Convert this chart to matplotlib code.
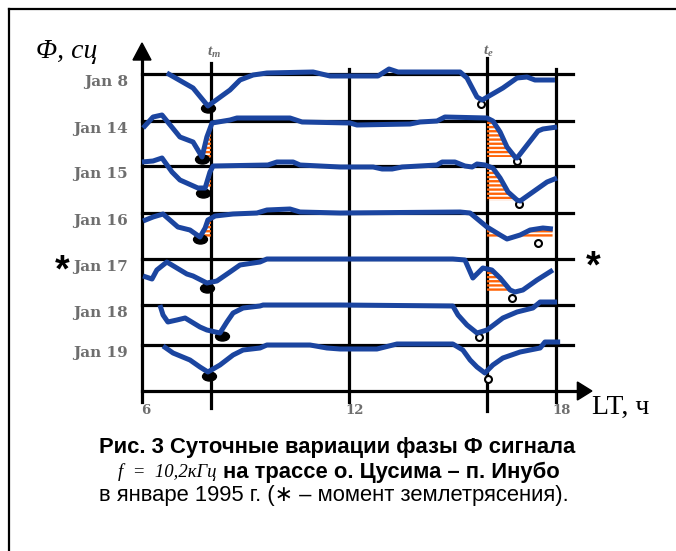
import numpy as np
import matplotlib.pyplot as plt
from matplotlib.lines import Line2D
from matplotlib.path import Path

plt.rcParams['mathtext.fontset'] = 'custom'
plt.rcParams['mathtext.it'] = 'Liberation Serif:italic:bold'
plt.rcParams['hatch.linewidth'] = 1.7

# days and the level of each day's zero line
days = ['Jan 8', 'Jan 14', 'Jan 15', 'Jan 16', 'Jan 17', 'Jan 18', 'Jan 19']
levels = [317, 270, 225, 178, 132, 86, 46]
quake_day = 'Jan 17'

# phase deviation from the zero line vs local time, hours
jan8_h = [6.72, 7.48, 7.91, 8.55, 8.84, 9.22, 9.62, 10.96, 11.45, 12.84, 13.16,
          13.42, 15.22, 15.42, 15.71, 15.86, 16.46, 16.87, 17.16, 17.39, 17.97]
jan8_phi = [1, -14, -32, -16, -6, -1, 1, 2, -2, -2, 5,
            2, 2, -4, -23, -26, -14, -4, -3, -6, -6]

jan14_h = [6.03, 6.32, 6.58, 7.10, 7.48, 7.62, 7.74, 7.88, 8.03, 8.55, 8.75,
           10.29, 10.64, 12.03, 12.23, 13.77, 14.06, 14.55, 14.78, 16.0, 16.17,
           16.38, 16.58, 16.81, 16.87, 17.48, 17.62, 18.03]
jan14_phi = [-7, 4, 6, -16, -21, -29, -36, -16, -2, 1, 3,
             3, -1, -2, -4, -3, -1, 0, 4, 3, 0,
             -11, -26, -36, -37, -10, -8, -6]

jan15_h = [6.0, 6.32, 6.58, 6.87, 7.10, 7.62, 7.83, 7.97, 8.06, 9.65, 9.91,
           10.38, 10.58, 11.74, 12.70, 12.96, 13.25, 13.54, 14.55, 14.70, 15.07,
           15.36, 15.57, 15.71, 15.94, 16.17, 16.38, 16.61, 16.87, 16.96, 17.33,
           17.74, 18.03]
jan15_phi = [4, 5, 8, -6, -14, -22, -22, -6, 0, 1, 4,
             4, 1, -1, -1, -3, -3, -1, 1, 4, 4,
             0, -1, 2, 1, -2, -12, -26, -34, -35, -26,
             -16, -12]

jan16_h = [6.03, 6.32, 6.61, 7.04, 7.39, 7.68, 7.83, 7.91, 8.12, 8.64, 9.33,
           9.62, 10.29, 10.58, 11.74, 15.22, 15.51, 16.0, 16.38, 16.58, 16.96,
           17.25, 17.62, 17.91]
jan16_phi = [-8, -4, -1, -14, -17, -24, -15, -7, -3, -1, 0,
             3, 4, 1, 0, 1, 0, -14, -22, -26, -22,
             -17, -15, -16]

jan17_h = [6.03, 6.29, 6.43, 6.72, 7.30, 7.48, 7.88, 8.17, 8.55, 8.84, 9.42,
           9.62, 11.74, 15.01, 15.36, 15.59, 15.88, 16.14, 16.38, 16.67, 16.81,
           17.04, 17.45, 17.91]
jan17_phi = [-17, -20, -11, -3, -15, -17, -24, -22, -13, -6, -3,
             0, 0, 0, -1, -19, -9, -11, -19, -31, -33,
             -31, -21, -11]

jan18_h = [6.52, 6.61, 6.75, 7.01, 7.25, 7.68, 7.88, 8.26, 8.46, 8.64, 8.93,
           9.42, 9.51, 11.74, 15.01, 15.16, 15.42, 15.71, 16.0, 16.46, 16.87,
           17.33, 17.54, 18.03]
jan18_phi = [0, -10, -17, -15, -13, -22, -25, -28, -17, -8, -3,
             -1, 0, 0, -1, -10, -20, -28, -25, -13, -7,
             -3, 3, 3]

jan19_h = [6.61, 6.90, 7.39, 7.68, 7.91, 8.26, 8.64, 8.93, 9.42, 9.62, 10.87,
           11.36, 11.74, 12.81, 13.39, 15.01, 15.30, 15.51, 15.71, 15.94, 16.17,
           16.46, 16.96, 17.54, 17.68, 18.12]
jan19_phi = [-1, -8, -15, -22, -27, -20, -10, -5, -3, 0, 0,
             -3, -4, -4, 1, 1, -5, -15, -22, -28, -20,
             -13, -7, -3, 3, 3]

curves_h = [jan8_h, jan14_h, jan15_h, jan16_h, jan17_h, jan18_h, jan19_h]
curves_phi = [jan8_phi, jan14_phi, jan15_phi, jan16_phi, jan17_phi, jan18_phi, jan19_phi]

# morning (tm) and evening (te) minima
t_m, t_e = 8.0, 16.0
tm_h = [7.91, 7.74, 7.77, 7.68, 7.88, 8.32, 7.94]
tm_phi = [-34, -38, -27, -26, -29, -31, -31]
te_h = [15.83, 16.87, 16.93, 17.48, 16.72, 15.77, 16.03]
te_phi = [-30, -40, -38, -30, -39, -32, -34]

# shaded parts: day, from hour, to hour, lower level
shade_day = ['Jan 14', 'Jan 14', 'Jan 15', 'Jan 15', 'Jan 16', 'Jan 16', 'Jan 17']
shade_from = [7.74, 16.0, 7.77, 16.0, 7.68, 16.0, 16.0]
shade_to = [8.0, 16.87, 8.0, 16.93, 8.0, 17.9, 16.8]
shade_level = [-37, -36, -22, -35, -24, -25, -32]

hour_ticks = [6, 12, 18]

BLUE = '#1b45a0'
ORANGE = '#ff6408'
GREY = '#6e6e6e'
PX_H = 34.5  # pixels per hour

fig = plt.figure(figsize=(6.76, 5.51), dpi=100)
ax = fig.add_axes([0, 0, 1, 1])
ax.set_xlim(6 - 142 / PX_H, 6 + 534 / PX_H)
ax.set_ylim(-160, 391)
ax.axis('off')

# outer frame
fig.add_artist(Line2D([9 / 676, 1], [1 - 9 / 551] * 2, color='black', lw=1.6,
                      transform=fig.transFigure))
fig.add_artist(Line2D([9 / 676] * 2, [0, 1 - 9 / 551], color='black', lw=1.6,
                      transform=fig.transFigure))

# axes with arrows
lw_grid = 2.3
x_end = 6 + 431 / PX_H
ax.plot([6, 6], [-11, 332], color='black', lw=lw_grid, zorder=1)
ax.fill([6 - 9 / PX_H, 6 + 9 / PX_H, 6], [331, 331, 348], color='black', zorder=1)
ax.plot([6, 18.64], [0, 0], color='black', lw=lw_grid, zorder=1)
ax.fill([18.62, 18.62, 19.04], [-9, 9, 0], color='black', zorder=1)

for x, y0, y1 in [(t_m, -17, 328), (12, -11, 322), (t_e, -20, 333), (18, -11, 322)]:
    ax.plot([x, x], [y0, y1], color='black', lw=lw_grid, zorder=1)

ax.text(t_m + 0.1, 339, r'$t_m$', ha='center', va='center', fontsize=11, color=GREY)
ax.text(t_e + 0.05, 340, r'$t_e$', ha='center', va='center', fontsize=11, color=GREY)

ell = Path.unit_circle()
ell = Path(ell.vertices * [1, 0.65], ell.codes)

for i, day in enumerate(days):
    lvl = levels[i]
    ax.plot([6, x_end], [lvl, lvl], color='black', lw=lw_grid, zorder=1)
    ax.text(6 - 14 / PX_H, lvl - 8, day, ha='right', va='center', fontsize=11,
            fontweight='bold', family='DejaVu Serif', color=GREY)
    h = np.array(curves_h[i])
    phi = np.array(curves_phi[i])
    ax.plot(h, lvl + phi, color=BLUE, lw=3.6, solid_joinstyle='round',
            solid_capstyle='butt', zorder=4)
    ax.plot(tm_h[i], lvl + tm_phi[i], marker=ell, color='black', ms=10, zorder=3)
    ax.plot(te_h[i], lvl + te_phi[i], 'o', mfc='white', mec='black', mew=1.5,
            ms=5, zorder=3)

for day, x0, x1, low in zip(shade_day, shade_from, shade_to, shade_level):
    i = days.index(day)
    xx = np.linspace(x0, x1, 300)
    yy = np.interp(xx, curves_h[i], curves_phi[i])
    ax.fill_between(xx, levels[i] + yy, levels[i] + low, where=yy >= low,
                    interpolate=True, facecolor='none', edgecolor=ORANGE,
                    hatch='----', linewidth=0, zorder=2)

# earthquake day marks
qy = levels[days.index(quake_day)]
for x, dy in [(6 - 80 / PX_H, -12), (6 + 451 / PX_H, -8)]:
    ax.text(x, qy + dy, '*', ha='center', va='center', fontsize=27,
            fontweight='bold', family='Liberation Sans', color='black')

for t in hour_ticks:
    ax.text(t + (0.1 if t == 6 else 0.15), -19, str(t), ha='center', va='center',
            fontsize=9.5, fontweight='bold', family='DejaVu Serif', color=GREY)

ax.text(6 + 450 / PX_H, -23, 'LT, ч', ha='left', va='baseline', fontsize=20,
        family='Liberation Serif')
ax.text(6 - 106 / PX_H, 333, 'Φ, сц', ha='left', va='baseline', fontsize=20,
        family='Liberation Serif', style='italic')

# caption
fig.text(337 / 676, 1 - 448 / 551, 'Рис. 3 Суточные вариации фазы Ф сигнала',
         ha='center', va='center', fontsize=15.8, fontweight='bold',
         family='Liberation Sans')
fig.text(217 / 676, 1 - 472 / 551, 'f  =  10,2кГц', ha='right', va='center',
         fontsize=13.5, family='Liberation Serif', style='italic')
fig.text(223 / 676, 1 - 472 / 551, 'на трассе о. Цусима – п. Инубо',
         ha='left', va='center', fontsize=15.8, fontweight='bold',
         family='Liberation Sans')
fig.text(334 / 676, 1 - 496 / 551, 'в январе 1995 г. (∗ – момент землетрясения).',
         ha='center', va='center', fontsize=15.8,
         family=['Liberation Sans', 'DejaVu Sans'])

fig.savefig('out.png', dpi=100)
